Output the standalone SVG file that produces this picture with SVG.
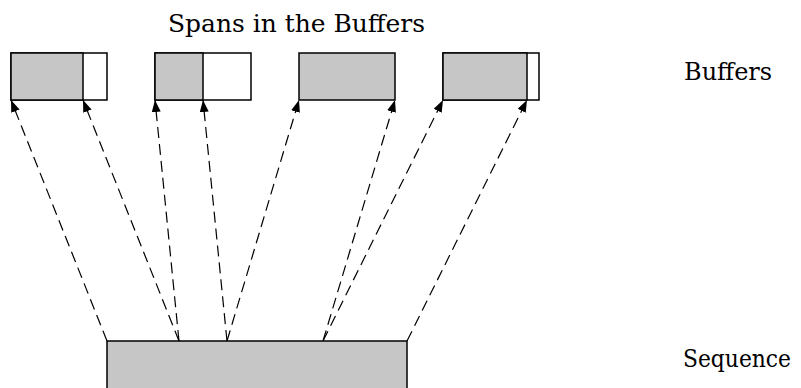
<svg xmlns="http://www.w3.org/2000/svg" width="801" height="388" viewBox="0 0 801 388">
<defs>
<style>
.lbl{font-family:"DejaVu Serif","Liberation Serif",serif;font-size:24px;fill:#000}
.box{stroke:#000;stroke-width:1.5;fill:#fff}
.fill{fill:#c6c6c6;stroke:#000;stroke-width:1.5}
.conn line{stroke:#000;stroke-width:1.2;stroke-dasharray:11,6;marker-end:url(#ah)}
</style>
<marker id="ah" markerUnits="userSpaceOnUse" markerWidth="13" markerHeight="10" refX="12" refY="4.5" orient="auto">
<path d="M0,0 L12,4.5 L0,9 Z" fill="#000"/>
</marker>
</defs>
<rect width="801" height="388" fill="#fff"/>
<text class="lbl" x="168" y="32" textLength="257" lengthAdjust="spacingAndGlyphs">Spans in the Buffers</text>
<text class="lbl" x="684" y="80">Buffers</text>
<text class="lbl" x="683" y="367" textLength="108" lengthAdjust="spacingAndGlyphs">Sequence</text>
<g id="buf1"><rect class="box" x="11" y="53" width="96" height="47"/><rect class="fill" x="11" y="53" width="72" height="47"/></g>
<g id="buf2"><rect class="box" x="155" y="53" width="96" height="47"/><rect class="fill" x="155" y="53" width="48" height="47"/></g>
<g id="buf3"><rect class="fill" x="299" y="53" width="96" height="47"/></g>
<g id="buf4"><rect class="box" x="443" y="53" width="96" height="47"/><rect class="fill" x="443" y="53" width="84" height="47"/></g>
<g id="seq"><rect class="fill" x="107" y="341" width="300" height="60"/></g>
<g class="conn" id="connectors">
<line x1="107" y1="341" x2="11" y2="100"/>
<line x1="179" y1="341" x2="83" y2="100"/>
<line x1="179" y1="341" x2="155" y2="100"/>
<line x1="227" y1="341" x2="203" y2="100"/>
<line x1="227" y1="341" x2="299" y2="100"/>
<line x1="323" y1="341" x2="395" y2="100"/>
<line x1="323" y1="341" x2="443" y2="100"/>
<line x1="407" y1="341" x2="527" y2="100"/>
</g>
</svg>
